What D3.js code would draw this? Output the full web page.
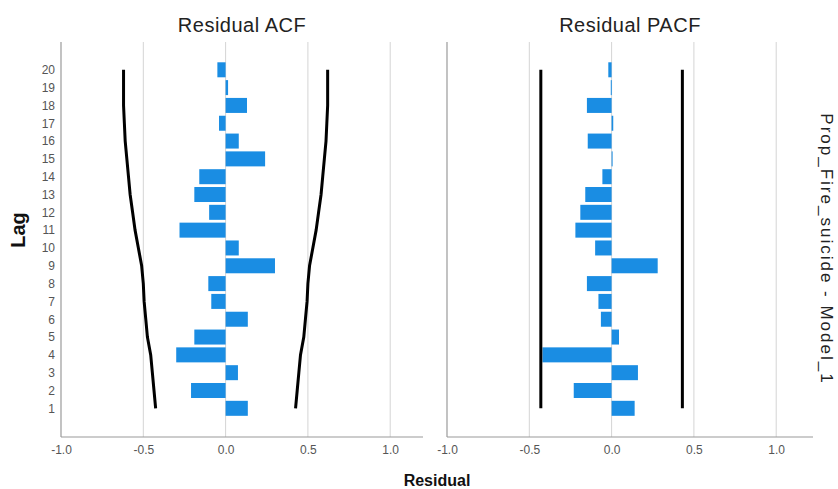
<!DOCTYPE html>
<html>
<head>
<meta charset="utf-8">
<script src="https://cdn.jsdelivr.net/npm/d3@7"></script>
<style>
	body { margin: 0; background: #fff; }
	svg { font-family: "Liberation Sans", Arial, sans-serif; }
	.tick text { fill: #555; font-size: 12px; }
	.grid { stroke: #d4d4d4; stroke-width: 1; }
	.frame { stroke: #9a9a9a; stroke-width: 1.2; }
</style>
</head>
<body>
<svg id="chart" width="838" height="489"></svg>
<script>
const lags = d3.range(1, 21);

const acfValues = [0.135, -0.21, 0.075, -0.30, -0.19, 0.135, -0.087, -0.105, 0.30, 0.08,
	-0.28, -0.10, -0.19, -0.16, 0.24, 0.08, -0.04, 0.13, 0.015, -0.05];

const acfLimit = [0.425, 0.435, 0.445, 0.455, 0.475, 0.485, 0.495, 0.50, 0.51, 0.53,
	0.55, 0.565, 0.58, 0.59, 0.60, 0.61, 0.615, 0.62, 0.62, 0.62];

const pacfValues = [0.14, -0.23, 0.16, -0.42, 0.045, -0.065, -0.08, -0.15, 0.28, -0.10,
	-0.22, -0.19, -0.16, -0.056, 0.005, -0.145, 0.01, -0.15, -0.005, -0.02];

const pacfLimit = 0.43;

const xTicks = [-1.0, -0.5, 0.0, 0.5, 1.0];

const panels = [
	{ title: "Residual ACF", values: acfValues, limits: acfLimit, left: 61, right: 423 },
	{ title: "Residual PACF", values: pacfValues, limits: lags.map(() => pacfLimit), left: 447, right: 813 }
];

const plotTop = 42, plotBottom = 437;
const barColor = "#1a8de3";

const svg = d3.select("#chart");

const y = d3.scaleLinear()
	.domain([-0.61, 21.56])
	.range([plotBottom, plotTop]);

const barH = 15;

panels.forEach((p, i) => {
	const x = d3.scaleLinear()
		.domain([-1, -1 + (p.right - p.left) / 164.6])
		.range([p.left, p.right]);

	const g = svg.append("g");

	// grid lines
	g.selectAll("line.grid")
		.data(xTicks.slice(1))
		.enter()
		.append("line")
		.attr("class", "grid")
		.attr("x1", (d) => x(d))
		.attr("x2", (d) => x(d))
		.attr("y1", plotTop)
		.attr("y2", plotBottom);

	// bars
	g.selectAll("rect.bar")
		.data(p.values)
		.enter()
		.append("rect")
		.attr("class", "bar")
		.attr("x", (d) => x(Math.min(0, d)))
		.attr("width", (d) => Math.max(1, Math.abs(x(d) - x(0))))
		.attr("y", (d, j) => y(lags[j]) - barH / 2)
		.attr("height", barH)
		.attr("fill", barColor);

	// confidence limits
	const upper = d3.line()
		.x((d) => x(d))
		.y((d, j) => y(lags[j]));
	const lower = d3.line()
		.x((d) => x(-d))
		.y((d, j) => y(lags[j]));

	g.append("path")
		.attr("d", upper(p.limits))
		.attr("fill", "none")
		.attr("stroke", "#000")
		.attr("stroke-width", 3);
	g.append("path")
		.attr("d", lower(p.limits))
		.attr("fill", "none")
		.attr("stroke", "#000")
		.attr("stroke-width", 3);

	// axes
	const xAxis = d3.axisBottom(x)
		.tickValues(xTicks)
		.tickFormat((d) => d3.format(".1f")(d).replace("−", "-"))
		.tickSize(0)
		.tickPadding(8);

	const ax = g.append("g")
		.attr("transform", `translate(0,${plotBottom})`)
		.call(xAxis);
	ax.select(".domain").remove();

	g.append("line")
		.attr("class", "frame")
		.attr("x1", p.left).attr("x2", p.right)
		.attr("y1", plotBottom).attr("y2", plotBottom);
	g.append("line")
		.attr("class", "frame")
		.attr("x1", p.left).attr("x2", p.left)
		.attr("y1", plotTop).attr("y2", plotBottom);

	if (i === 0) {
		const yAxis = d3.axisLeft(y)
			.tickValues(lags)
			.tickFormat(d3.format("d"))
			.tickSize(0)
			.tickPadding(6);
		const ay = g.append("g")
			.attr("transform", `translate(${p.left},0)`)
			.call(yAxis);
		ay.select(".domain").remove();
	}

	svg.append("text")
		.attr("x", (p.left + p.right) / 2)
		.attr("y", 31.5)
		.attr("text-anchor", "middle")
		.attr("font-size", 20)
		.attr("letter-spacing", 0.5)
		.attr("fill", "#222")
		.text(p.title);
});

svg.append("text")
	.attr("transform", "translate(24.5,230) rotate(-90)")
	.attr("text-anchor", "middle")
	.attr("font-size", 20)
	.attr("font-weight", "bold")
	.attr("fill", "#111")
	.text("Lag");

svg.append("text")
	.attr("x", 437)
	.attr("y", 486)
	.attr("text-anchor", "middle")
	.attr("font-size", 16)
	.attr("font-weight", "bold")
	.attr("fill", "#111")
	.text("Residual");

svg.append("text")
	.attr("transform", "translate(821,249) rotate(90)")
	.attr("text-anchor", "middle")
	.attr("font-size", 17)
	.attr("letter-spacing", 2)
	.attr("fill", "#222")
	.text("Prop_Fire_suicide - Model_1");
</script>
</body>
</html>
